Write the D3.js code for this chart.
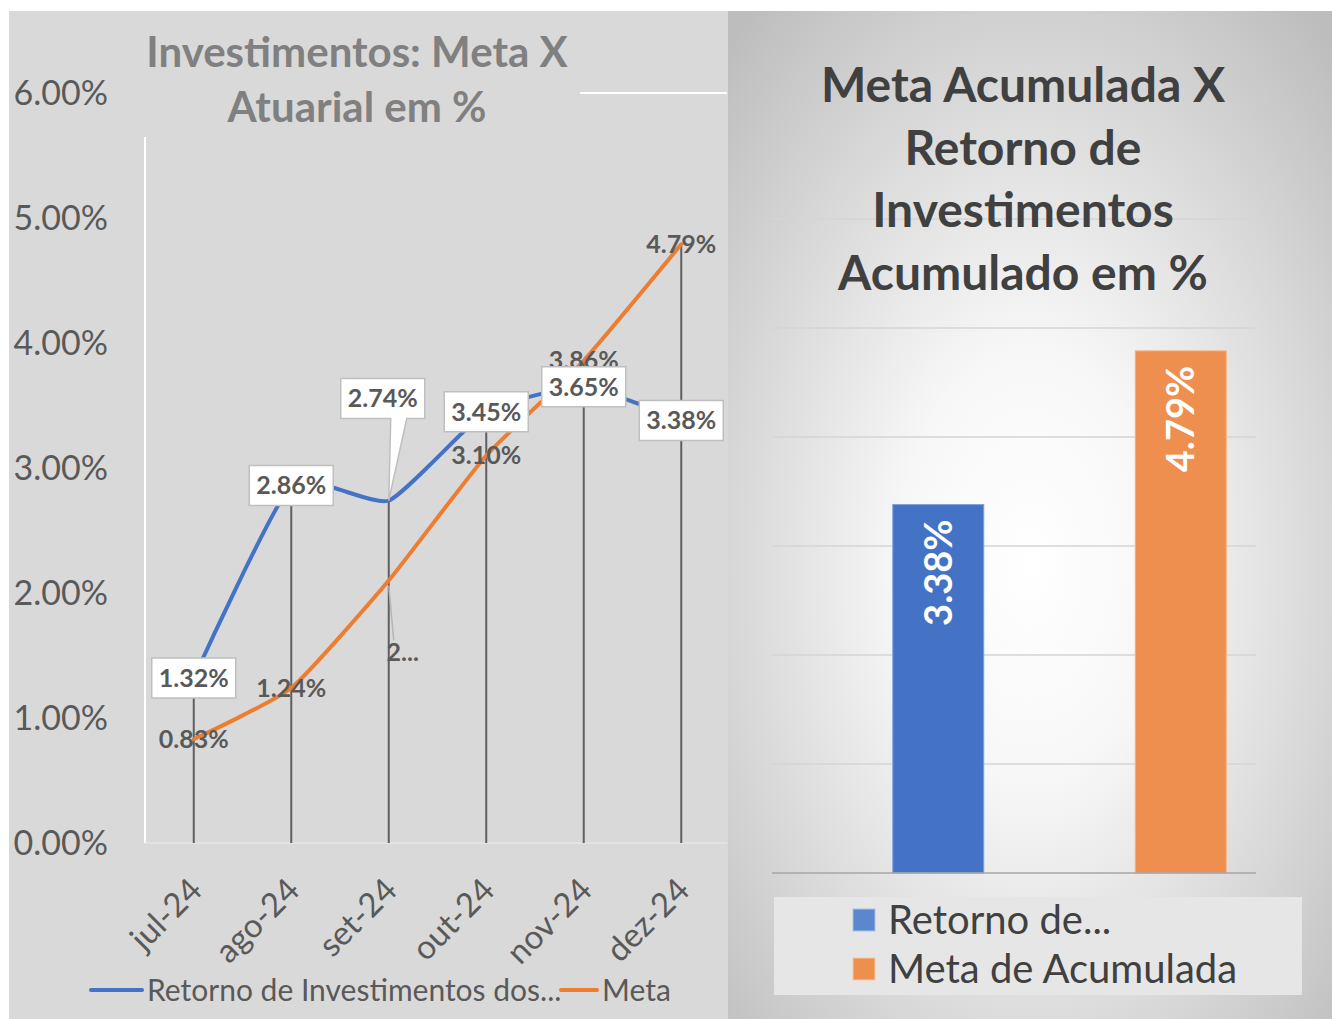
<!DOCTYPE html>
<html>
<head>
<meta charset="utf-8">
<script src="https://cdn.jsdelivr.net/npm/d3@7"></script>
<style>
  body { margin: 0; background: #ffffff; }
  svg { display: block; font-family: Lato, "Open Sans", sans-serif; }
</style>
</head>
<body>
<svg id="chart"></svg>
<script>
// data
var months = ["jul-24", "ago-24", "set-24", "out-24", "nov-24", "dez-24"];
var retorno = [1.32, 2.86, 2.74, 3.45, 3.65, 3.38];
var meta = [0.83, 1.24, 2.10, 3.10, 3.86, 4.79];
var yTicks = [0, 1, 2, 3, 4, 5, 6];

var barCats = ["Retorno de...", "Meta de Acumulada"];
var barValues = [3.38, 4.79];
var barLabels = ["3.38%", "4.79%"];

var W = 1332, H = 1019;
var blue = "#4472c4", orange = "#ed7d31";

var svg = d3.select("#chart").attr("width", W).attr("height", H);

var defs = svg.append("defs");
var grad = defs.append("radialGradient").attr("id", "rg")
  .attr("cx", "0.5").attr("cy", "0.55").attr("r", "0.72");
grad.append("stop").attr("offset", "0").attr("stop-color", "#ffffff");
grad.append("stop").attr("offset", "0.3").attr("stop-color", "#f7f7f7");
grad.append("stop").attr("offset", "1").attr("stop-color", "#bdbdbd");

// ---------- left panel ----------
svg.append("rect").attr("x", 9).attr("y", 11).attr("width", 719).attr("height", H - 11)
  .attr("fill", "#d9d9d9");

var x = d3.scalePoint().domain(months).range([145, 730]).padding(0.5);
var y = d3.scaleLinear().domain([0, 6]).range([843, 93]);

// top gridline + axes
svg.append("line").attr("x1", 145).attr("x2", 727).attr("y1", y(6)).attr("y2", y(6))
  .attr("stroke", "#ffffff").attr("stroke-width", 2);
svg.append("line").attr("x1", 145).attr("x2", 145).attr("y1", y(6)).attr("y2", y(0))
  .attr("stroke", "#ffffff").attr("stroke-width", 2);
svg.append("line").attr("x1", 145).attr("x2", 727).attr("y1", y(0)).attr("y2", y(0))
  .attr("stroke", "#e4e4e4").attr("stroke-width", 1.5);

// title (its box hides part of the gridline)
svg.append("rect").attr("x", 125).attr("y", 25).attr("width", 455).attr("height", 112)
  .attr("fill", "#d9d9d9");
var t1 = svg.append("text").attr("text-anchor", "middle").attr("fill", "#808080")
  .attr("font-weight", "bold").attr("font-size", 42);
t1.append("tspan").attr("x", 357).attr("y", 67).text("Investimentos: Meta X");
t1.append("tspan").attr("x", 357).attr("y", 122).text("Atuarial em %");

// y labels
svg.append("g").selectAll("text").data(yTicks).enter().append("text")
  .attr("x", 108).attr("y", function(d) { return y(d); })
  .attr("dy", "0.35em").attr("text-anchor", "end")
  .attr("font-size", 34).attr("fill", "#595959")
  .text(function(d) { return d3.format(".2f")(d) + "%"; });

// x labels
svg.append("g").selectAll("text").data(months).enter().append("text")
  .attr("transform", function(d) { return "translate(" + (x(d) + 2) + ",884) rotate(-45)"; })
  .attr("text-anchor", "end").attr("dy", "0.35em")
  .attr("font-size", 33).attr("fill", "#595959")
  .text(function(d) { return d; });

// drop lines
svg.append("g").selectAll("line").data(months).enter().append("line")
  .attr("x1", function(d) { return x(d); }).attr("x2", function(d) { return x(d); })
  .attr("y1", function(d, i) { return y(Math.max(retorno[i], meta[i])); })
  .attr("y2", y(0))
  .attr("stroke", "#5f5f5f").attr("stroke-width", 2);

// lines
var line = d3.line()
  .x(function(d, i) { return x(months[i]); })
  .y(function(d) { return y(d); })
  .curve(d3.curveCardinal.tension(0.5));

svg.append("path").datum(retorno).attr("d", line)
  .attr("fill", "none").attr("stroke", blue).attr("stroke-width", 4).attr("stroke-linecap", "round");
svg.append("path").datum(meta).attr("d", line)
  .attr("fill", "none").attr("stroke", orange).attr("stroke-width", 4).attr("stroke-linecap", "round");

// meta labels (plain text on the point; set-24 is moved and truncated)
var metaTxt = meta.map(function(d, i) { return i === 2 ? "2..." : d.toFixed(2) + "%"; });
var metaShift = [[0, 0], [0, 0], [14, 72], [0, 0], [0, 0], [0, 0]];
svg.append("line")
  .attr("x1", x(months[2])).attr("y1", y(meta[2]) + 5)
  .attr("x2", x(months[2]) + 5).attr("y2", y(meta[2]) + 60)
  .attr("stroke", "#b5b5b5").attr("stroke-width", 1.5);
svg.append("g").selectAll("text").data(meta).enter().append("text")
  .attr("x", function(d, i) { return x(months[i]) + metaShift[i][0]; })
  .attr("y", function(d, i) { return y(d) + metaShift[i][1]; })
  .attr("dy", "0.35em").attr("text-anchor", "middle")
  .attr("font-size", 25).attr("font-weight", "bold").attr("fill", "#595959")
  .text(function(d, i) { return metaTxt[i]; });

// retorno labels in boxes
var boxW = 84, boxH = 40;
var retShift = [[0, 0], [0, 0], [-6, -102], [0, 0], [0, 0], [0, 0]];
var rl = svg.append("g").selectAll("g").data(retorno).enter().append("g")
  .attr("transform", function(d, i) {
    return "translate(" + (x(months[i]) + retShift[i][0]) + "," + (y(d) + retShift[i][1]) + ")";
  });
rl.each(function(d, i) {
  var g = d3.select(this);
  if (i === 2) {
    // callout pointing down to the point
    var dx = -retShift[i][0], dy = -retShift[i][1];
    g.append("path")
      .attr("d", "M" + (-boxW / 2) + "," + (-boxH / 2) + "H" + (boxW / 2) + "V" + (boxH / 2) +
        "H" + 24 + "L" + dx + "," + dy + "L" + 8 + "," + (boxH / 2) + "H" + (-boxW / 2) + "Z")
      .attr("fill", "#ffffff").attr("stroke", "#bfbfbf").attr("stroke-width", 1.5);
  } else {
    g.append("rect").attr("x", -boxW / 2).attr("y", -boxH / 2)
      .attr("width", boxW).attr("height", boxH)
      .attr("fill", "#ffffff").attr("stroke", "#bfbfbf").attr("stroke-width", 1.5);
  }
  g.append("text").attr("text-anchor", "middle").attr("dy", "0.35em")
    .attr("font-size", 25).attr("font-weight", "bold").attr("fill", "#595959")
    .text(d.toFixed(2) + "%");
});

// left legend
var lg = svg.append("g").attr("font-size", 30).attr("fill", "#595959");
lg.append("line").attr("x1", 91).attr("x2", 142).attr("y1", 990).attr("y2", 990)
  .attr("stroke", blue).attr("stroke-width", 4).attr("stroke-linecap", "round");
lg.append("text").attr("x", 147).attr("y", 1001).text("Retorno de Investimentos dos...");
lg.append("line").attr("x1", 561).attr("x2", 597).attr("y1", 990).attr("y2", 990)
  .attr("stroke", orange).attr("stroke-width", 4).attr("stroke-linecap", "round");
lg.append("text").attr("x", 602).attr("y", 1001).text("Meta");

// ---------- right panel ----------
svg.append("rect").attr("x", 728).attr("y", 11).attr("width", W - 728).attr("height", H - 11)
  .attr("fill", "url(#rg)");

var x2 = d3.scaleBand().domain(barCats).range([817, 1302])
  .paddingInner(0.625).paddingOuter(0.3125);
var y2 = d3.scaleLinear().domain([0, 6]).range([873, 219]);

svg.append("g").selectAll("line").data(yTicks.slice(1)).enter().append("line")
  .attr("x1", 772).attr("x2", 1256)
  .attr("y1", function(d) { return y2(d); }).attr("y2", function(d) { return y2(d); })
  .attr("stroke", "#d4d4d4").attr("stroke-width", 1.5);

var t2 = svg.append("text").attr("text-anchor", "middle").attr("fill", "#404040")
  .attr("font-weight", "bold").attr("font-size", 48);
["Meta Acumulada X", "Retorno de", "Investimentos", "Acumulado em %"].forEach(function(s, i) {
  t2.append("tspan").attr("x", 1023).attr("y", 102 + i * 62.5).text(s);
});

svg.append("g").selectAll("rect").data(barValues).enter().append("rect")
  .attr("x", function(d, i) { return x2(barCats[i]); })
  .attr("y", function(d) { return y2(d); })
  .attr("width", x2.bandwidth())
  .attr("height", function(d) { return y2(0) - y2(d); })
  .attr("fill", function(d, i) { return i === 0 ? "#4472c4" : "#ef8f4f"; })
  .attr("stroke", function(d, i) { return i === 0 ? "#7f9fd9" : "#f4b083"; })
  .attr("stroke-width", 1);

svg.append("line").attr("x1", 772).attr("x2", 1256).attr("y1", y2(0)).attr("y2", y2(0))
  .attr("stroke", "#a6a6a6").attr("stroke-width", 1.5);

svg.append("g").selectAll("text").data(barValues).enter().append("text")
  .attr("transform", function(d, i) {
    return "translate(" + (x2(barCats[i]) + x2.bandwidth() / 2) + "," + (y2(d) + 15) + ") rotate(-90)";
  })
  .attr("text-anchor", "end").attr("dy", "0.35em")
  .attr("font-size", 38).attr("font-weight", "bold").attr("fill", "#ffffff")
  .text(function(d, i) { return barLabels[i]; });

// right legend
svg.append("rect").attr("x", 774).attr("y", 897).attr("width", 528).attr("height", 98)
  .attr("fill", "#e6e6e6");
var rlg = svg.append("g").selectAll("g").data(barCats).enter().append("g")
  .attr("transform", function(d, i) { return "translate(853," + (920 + i * 49) + ")"; });
rlg.append("rect").attr("x", 0).attr("y", -11).attr("width", 22).attr("height", 22)
  .attr("fill", function(d, i) { return i === 0 ? "#5b87cf" : "#ef8f4f"; })
  .attr("stroke", function(d, i) { return i === 0 ? "#a9c0e8" : "#f8c6a4"; });
rlg.append("text").attr("x", 35).attr("dy", "0.35em")
  .attr("font-size", 40).attr("fill", "#404040")
  .text(function(d) { return d; });
</script>
</body>
</html>
